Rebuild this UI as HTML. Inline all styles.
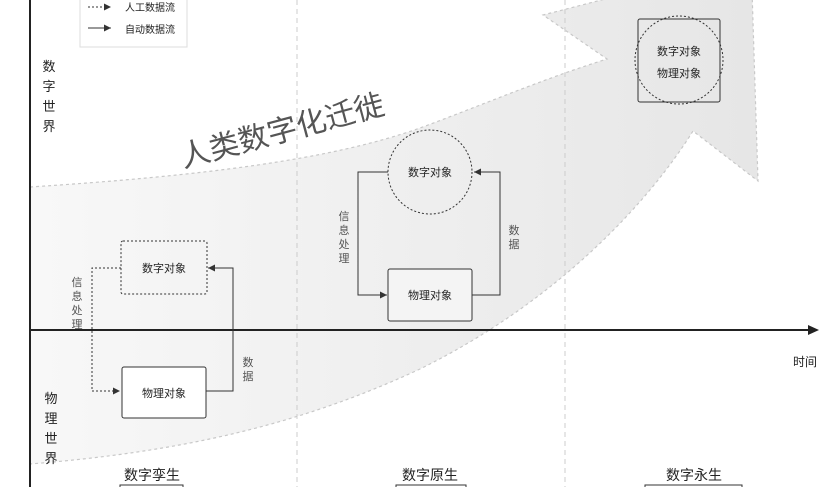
<!DOCTYPE html>
<html><head><meta charset="utf-8"><style>
html,body{margin:0;padding:0;background:#fff;}
svg{display:block;}
text{font-family:"Liberation Sans","Noto Sans CJK SC",sans-serif;fill:#222;}
</style></head><body>
<svg width="840" height="487" viewBox="0 0 840 487" xmlns="http://www.w3.org/2000/svg">
<defs>
<linearGradient id="g" x1="0" y1="0" x2="1" y2="0">
<stop offset="0" stop-color="#f8f8f8"/><stop offset="1" stop-color="#e6e6e6"/>
</linearGradient>
<marker id="ah" markerWidth="8" markerHeight="8" refX="7" refY="4" orient="auto" markerUnits="userSpaceOnUse"><path d="M0,0.5 L7,4 L0,7.5z" fill="#333"/></marker>
</defs>
<path d="M30,187 C200,176 330,160 420,128 C480,106 540,80 607,59 L543,15 L640,-10 L752,-10 L758,181 L693,131 C650,200 560,300 420,369 C300,425 180,452 30,464 Z" fill="url(#g)" stroke="#c8c8c8" stroke-width="1.2" stroke-dasharray="3,3"/>
<line x1="297" y1="0" x2="297" y2="487" stroke="#ccc" stroke-dasharray="5,4"/>
<line x1="565" y1="0" x2="565" y2="487" stroke="#ccc" stroke-dasharray="5,4"/>
<line x1="30" y1="0" x2="30" y2="487" stroke="#222" stroke-width="2"/>
<line x1="30" y1="330" x2="810" y2="330" stroke="#222" stroke-width="2"/>
<path d="M808,325 L819,330 L808,335z" fill="#222"/>
<text x="805" y="366" font-size="12" text-anchor="middle">时间</text>
<rect x="80" y="-5" width="107" height="52" fill="#fff" stroke="#ddd"/>
<line x1="88" y1="7" x2="111" y2="7" stroke="#333" stroke-dasharray="2,2" marker-end="url(#ah)"/>
<line x1="88" y1="28" x2="111" y2="28" stroke="#333" marker-end="url(#ah)"/>
<text x="125" y="11" font-size="10">人工数据流</text>
<text x="125" y="33" font-size="10">自动数据流</text>
<g font-size="13" text-anchor="middle">
<text x="49" y="71">数</text><text x="49" y="91">字</text><text x="49" y="111">世</text><text x="49" y="131">界</text>
<text x="51" y="403">物</text><text x="51" y="423">理</text><text x="51" y="443">世</text><text x="51" y="463">界</text>
</g>
<text x="282" y="141" font-size="30" text-anchor="middle" transform="rotate(-15 282 130)" style="fill:#555">人类数字化迁徙</text>
<rect x="121" y="241" width="86" height="53" rx="2" fill="none" stroke="#333" stroke-dasharray="2,2"/>
<text x="164" y="272" font-size="11" text-anchor="middle">数字对象</text>
<rect x="122" y="367" width="84" height="51" rx="2" fill="#fff" stroke="#333"/>
<text x="164" y="397" font-size="11" text-anchor="middle">物理对象</text>
<path d="M121,268 H92 V391 H120" fill="none" stroke="#333" stroke-dasharray="2,2" marker-end="url(#ah)"/>
<path d="M206,391 H233 V268 H208" fill="none" stroke="#333" marker-end="url(#ah)"/>
<g font-size="11" text-anchor="middle">
<text x="77" y="286" style="fill:#555">信</text><text x="77" y="300" style="fill:#555">息</text><text x="77" y="314" style="fill:#555">处</text><text x="77" y="328" style="fill:#555">理</text>
<text x="248" y="366" style="fill:#555">数</text><text x="248" y="380" style="fill:#555">据</text>
</g>
<circle cx="430" cy="172" r="42" fill="none" stroke="#333" stroke-dasharray="2,2"/>
<text x="430" y="176" font-size="11" text-anchor="middle">数字对象</text>
<rect x="388" y="269" width="84" height="52" rx="2" fill="#f4f4f4" stroke="#333"/>
<text x="430" y="299" font-size="11" text-anchor="middle">物理对象</text>
<path d="M388,172 H358 V295 H387" fill="none" stroke="#333" marker-end="url(#ah)"/>
<path d="M472,295 H500 V172 H474" fill="none" stroke="#333" marker-end="url(#ah)"/>
<g font-size="11" text-anchor="middle">
<text x="344" y="220" style="fill:#555">信</text><text x="344" y="234" style="fill:#555">息</text><text x="344" y="248" style="fill:#555">处</text><text x="344" y="262" style="fill:#555">理</text>
<text x="514" y="234" style="fill:#555">数</text><text x="514" y="248" style="fill:#555">据</text>
</g>
<rect x="638" y="19" width="82" height="83" rx="2" fill="none" stroke="#333"/>
<circle cx="679" cy="60" r="44" fill="none" stroke="#333" stroke-dasharray="2,2"/>
<text x="679" y="55" font-size="11" text-anchor="middle">数字对象</text>
<text x="679" y="77" font-size="11" text-anchor="middle">物理对象</text>
<g font-size="14" text-anchor="middle">
<text x="152" y="480">数字孪生</text>
<text x="430" y="480">数字原生</text>
<text x="694" y="480">数字永生</text>
</g>
<g fill="none" stroke="#333">
<path d="M120,489 V485 H183 V489"/>
<path d="M396,489 V485 H466 V489"/>
<path d="M645,489 V485 H742 V489"/>
</g>
</svg>
</body></html>
